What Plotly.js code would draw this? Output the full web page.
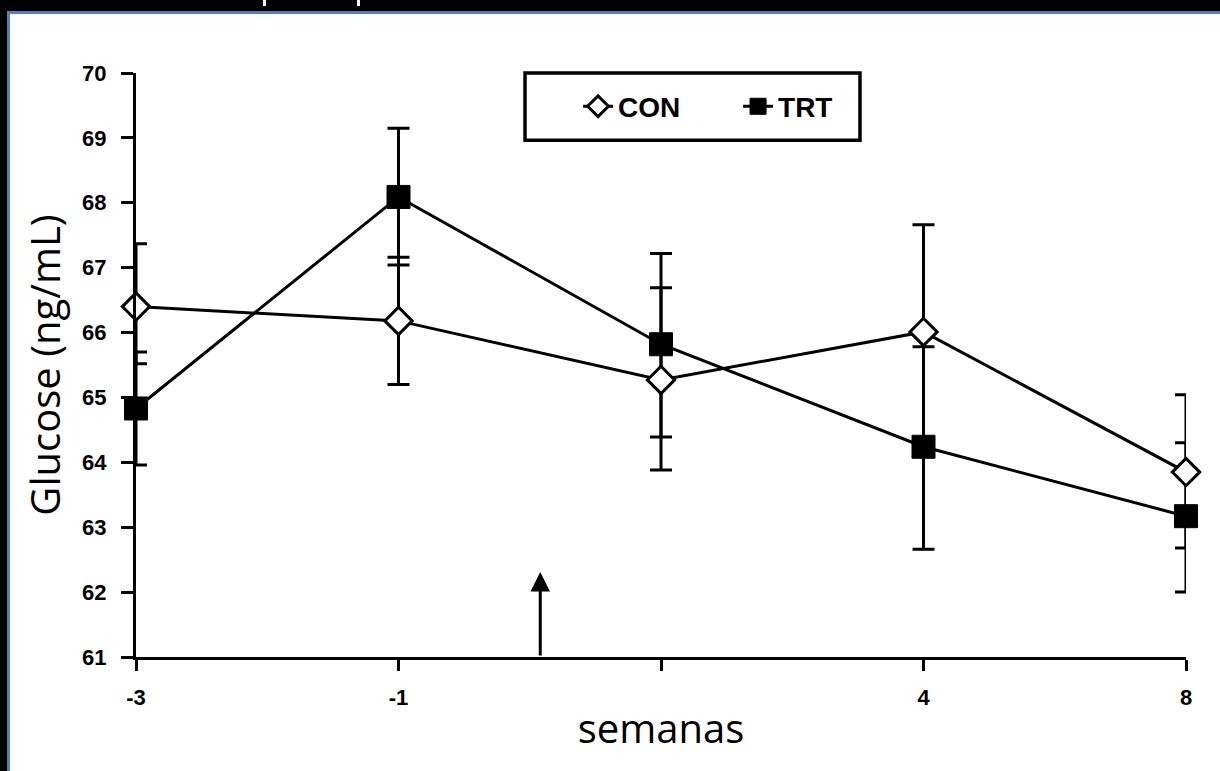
<!DOCTYPE html>
<html>
<head>
<meta charset="utf-8">
<script src="https://cdn.plot.ly/plotly-3.0.1.min.js"></script>
<style>
  html, body { margin: 0; padding: 0; background: #000; width: 1220px; height: 771px; overflow: hidden; }
  #panel { position: absolute; left: 7px; top: 11px; right: 0; bottom: 0;
           background: #fff; border-left: 3px solid #4f81bd; border-top: 3px solid #4f81bd; }
  .mark { position: absolute; top: 0; width: 3px; height: 6px; background: #fff; }
  #chart { position: absolute; left: 0; top: 0; width: 1220px; height: 771px; }
</style>
</head>
<body>
<div id="panel"></div>
<div class="mark" style="left:263px"></div>
<div class="mark" style="left:357px"></div>
<div id="chart"></div>
<script>
// ---- data ----
const weeks = ['-3', '-1', '1', '4', '8'];
const weekTickText = ['-3', '-1', '', '4', '8'];
const conMean = [66.40, 66.18, 65.27, 66.01, 63.85];
const conErrPlus = [0.97, 0.98, 1.42, 1.65, 1.19];
const conErrMinus = [0.88, 0.98, 1.39, 1.65, 1.17];
const trtMean = [64.83, 68.09, 65.82, 64.24, 63.17];
const trtErrPlus = [0.87, 1.06, 1.40, 1.54, 1.13];
const trtErrMinus = [0.87, 1.05, 1.43, 1.58, 1.17];
const yTicks = [61, 62, 63, 64, 65, 66, 67, 68, 69, 70];
const treatmentStart = 1.54;   // position (in week-index units) of the arrow
const arrowTipValue = 62.31;

const xIdx = weeks.map((w, i) => i);

const errStyle = (plus, minus) => ({
  type: 'data', symmetric: false, array: plus, arrayminus: minus,
  color: '#000', thickness: 3, width: 11
});

const trt = {
  name: 'TRT', x: xIdx, y: trtMean, type: 'scatter', mode: 'lines+markers',
  line: { color: '#000', width: 3 },
  marker: { symbol: 'square', size: 23, color: '#000', line: { color: '#000', width: 1 } },
  error_y: errStyle(trtErrPlus, trtErrMinus),
  cliponaxis: false
};
const con = {
  name: 'CON', x: xIdx, y: conMean, type: 'scatter', mode: 'lines+markers',
  line: { color: '#000', width: 3 },
  marker: { symbol: 'diamond', size: 21, color: '#fff', line: { color: '#000', width: 3 } },
  error_y: errStyle(conErrPlus, conErrMinus),
  cliponaxis: false
};

const tickFont = { family: 'Liberation Sans, Arial, sans-serif', size: 22, color: '#000', weight: 'bold' };
const titleFont = { family: 'Open Sans, sans-serif', size: 40, color: '#000' };

const layout = {
  width: 1220, height: 771,
  margin: { l: 136, r: 34, t: 73, b: 114 },
  paper_bgcolor: 'rgba(0,0,0,0)', plot_bgcolor: 'rgba(0,0,0,0)',
  showlegend: true,
  legend: {
    orientation: 'h', traceorder: 'reversed',
    x: 0.421, xanchor: 'left', y: 0.9425, yanchor: 'middle',
    entrywidth: 115, entrywidthmode: 'pixels',
    bgcolor: 'rgba(0,0,0,0)', borderwidth: 0,
    font: { family: 'Liberation Sans, Arial, sans-serif', size: 28, color: '#000', weight: 'bold' }
  },
  xaxis: {
    range: [0, 4], tickmode: 'array', tickvals: xIdx, ticktext: weekTickText,
    showline: true, linecolor: '#000', linewidth: 3, showgrid: false, zeroline: false,
    ticks: 'outside', ticklen: 11, tickwidth: 3, tickcolor: '#000',
    tickfont: tickFont, ticklabelstandoff: 8,
    title: { text: 'semanas', font: titleFont, standoff: 6 }
  },
  yaxis: {
    range: [61, 70], tickmode: 'array', tickvals: yTicks,
    showline: true, linecolor: '#000', linewidth: 3, showgrid: false, zeroline: false,
    ticks: 'outside', ticklen: 12, tickwidth: 3, tickcolor: '#000',
    tickfont: tickFont, ticklabelstandoff: 10,
    title: { text: 'Glucose (ng/mL)', font: titleFont, standoff: 10 }
  },
  shapes: [{
    type: 'rect', xref: 'paper', yref: 'paper',
    x0: 0.3705, x1: 0.6895, y0: 0.885, y1: 1.0,
    line: { color: '#000', width: 3.5 }, fillcolor: 'rgba(0,0,0,0)'
  }],
  annotations: [{
    x: treatmentStart, y: arrowTipValue, xref: 'x', yref: 'y',
    ax: treatmentStart, ay: 61, axref: 'x', ayref: 'y',
    text: '', showarrow: true, arrowhead: 2, arrowsize: 1.3, arrowwidth: 3, arrowcolor: '#000'
  }]
};

Plotly.newPlot('chart', [trt, con], layout, { displayModeBar: false, staticPlot: true });
</script>
</body>
</html>
